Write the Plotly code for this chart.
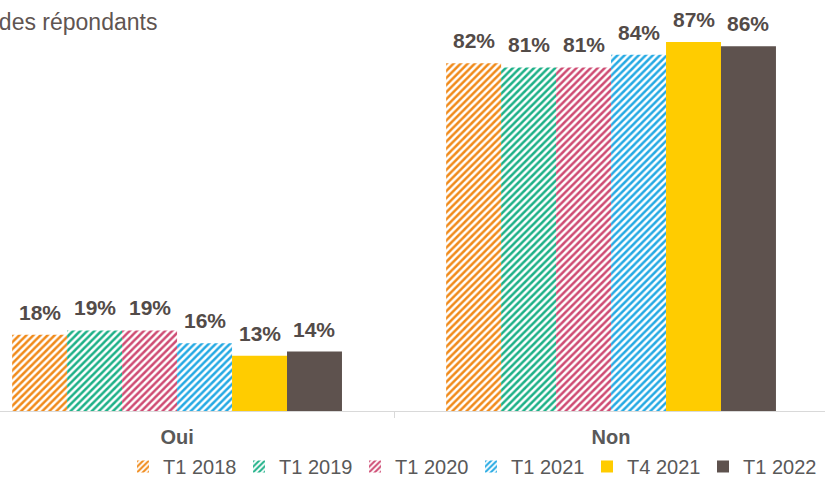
import plotly.graph_objects as go

categories = ["Oui", "Non"]
series_names = ["T1 2018", "T1 2019", "T1 2020", "T1 2021", "T4 2021", "T1 2022"]
values_2018 = [18, 82]
values_2019 = [19, 81]
values_2020 = [19, 81]
values_2021 = [16, 84]
values_t4_2021 = [13, 87]
values_2022 = [14, 86]
series_values = [values_2018, values_2019, values_2020, values_2021, values_t4_2021, values_2022]
colors = ["#F08A1A", "#1DB087", "#CE4B73", "#25A9E3", "#FFCC00", "#5E524E"]
patterned = [True, True, True, True, False, False]
title_text = "% des répondants"

FONT = "Liberation Sans, Arial, sans-serif"
BARGAP = 0.24

fig = go.Figure()
for name, vals, col, pat in zip(series_names, series_values, colors, patterned):
    if pat:
        marker = dict(color="white", line=dict(width=0),
                      pattern=dict(shape="/", fgcolor=col, bgcolor="white", fgopacity=1,
                                   size=5, solidity=0.5, fillmode="replace"))
    else:
        marker = dict(color=col, line=dict(width=0))
    fig.add_trace(go.Bar(x=categories, y=vals, name=name, marker=marker))

# value labels above bars
n = len(series_names)
w = (1 - BARGAP) / n
for i, vals in enumerate(series_values):
    for j, v in enumerate(vals):
        fig.add_annotation(x=j + (i - (n - 1) / 2) * w, y=v, text=f"<b>{v}%</b>",
                           showarrow=False, yanchor="bottom", yshift=9,
                           font=dict(family=FONT, size=21, color="#534B48"))

fig.add_annotation(xref="paper", yref="paper", x=159 / 825, y=0.965,
                   xanchor="right", yanchor="middle", text=title_text,
                   showarrow=False, font=dict(family=FONT, size=23, color="#5F5552"))

fig.update_layout(
    width=825, height=481,
    margin=dict(l=0, r=0, t=8, b=70, autoexpand=False),
    paper_bgcolor="white", plot_bgcolor="white",
    barmode="group", bargap=BARGAP, bargroupgap=0,
    showlegend=True,
    legend=dict(orientation="h", x=123 / 825, xanchor="left", y=-0.0893, yanchor="top",
                font=dict(family=FONT, size=20, color="#595959"),
                entrywidth=71, entrywidthmode="pixels", itemwidth=30,
                traceorder="normal"),
    xaxis=dict(type="category", range=[-0.408, 1.493], showgrid=False,
               showline=True, linecolor="#D9D9D9", linewidth=1,
               ticks="outside", tickson="boundaries", ticklen=6, tickcolor="#D9D9D9",
               tickfont=dict(family=FONT, size=20, color="#595959"),
               ticklabelstandoff=8,
               tickvals=categories, ticktext=[f"<b>{c}</b>" for c in categories]),
    yaxis=dict(range=[0, 95], visible=False, showgrid=False, zeroline=False),
)

fig.write_html("out.html", config={"displayModeBar": False},
               post_script="document.body.style.margin='0px';")
